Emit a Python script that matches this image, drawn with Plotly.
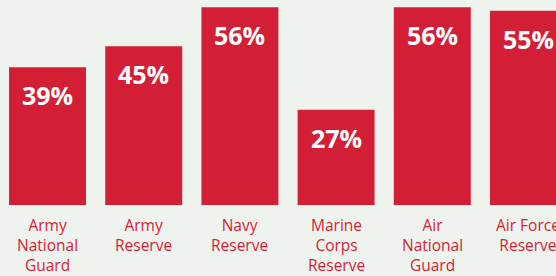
import plotly.graph_objects as go

categories = ["Army<br>National<br>Guard", "Army<br>Reserve", "Navy<br>Reserve",
              "Marine<br>Corps<br>Reserve", "Air<br>National<br>Guard", "Air Force<br>Reserve"]
values = [39, 45, 56, 27, 56, 55]
value_labels = ["39%", "45%", "56%", "27%", "56%", "55%"]

RED = "#d21f35"
BG = "#eff3ee"

fig = go.Figure(go.Bar(
    x=list(range(len(categories))), y=values,
    marker=dict(color=RED, line=dict(width=0)),
    width=0.8, hoverinfo="skip",
))

for i, (v, lab) in enumerate(zip(values, value_labels)):
    fig.add_annotation(x=i, y=v, text="<b>%s</b>" % lab, showarrow=False,
                       yanchor="middle", yshift=-28,
                       font=dict(family="Open Sans", size=25, color="white"))
    fig.add_annotation(x=i, y=0, text=categories[i], showarrow=False,
                       yanchor="top", yshift=-7,
                       font=dict(family="Open Sans", size=15.5, color=RED))

fig.update_layout(
    width=556, height=276,
    margin=dict(l=0, r=0, t=0, b=71),
    paper_bgcolor=BG, plot_bgcolor=BG,
    showlegend=False,
    xaxis=dict(range=[-0.494, 5.286], showticklabels=False, showgrid=False,
               zeroline=False, showline=False, fixedrange=True),
    yaxis=dict(range=[0, 58.07], showticklabels=False, showgrid=False,
               zeroline=False, showline=False, fixedrange=True),
)

fig.write_html("out.html", config={"displayModeBar": False},
               post_script="document.body.style.margin='0';document.body.style.background='%s';" % BG)
